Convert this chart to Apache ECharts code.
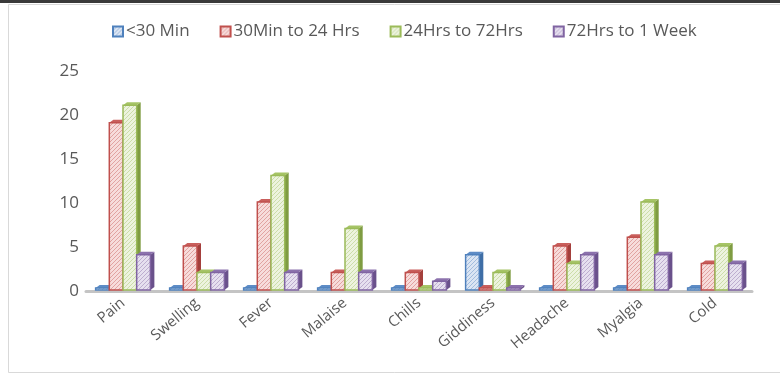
<!DOCTYPE html>
<html>
<head>
<meta charset="utf-8">
<script src="https://cdn.jsdelivr.net/npm/echarts@6/dist/echarts.min.js"></script>
<style>
  html, body { margin: 0; padding: 0; background: #fff; }
  #chart { width: 780px; height: 377px; }
</style>
</head>
<body>
<div id="chart"></div>
<script>
// Symptom counts by onset time
const categories = ['Pain', 'Swelling', 'Fever', 'Malaise', 'Chills', 'Giddiness', 'Headache', 'Myalgia', 'Cold'];
const seriesNames = ['<30 Min', '30Min to 24 Hrs', '24Hrs to 72Hrs', '72Hrs to 1 Week'];
const under30Min   = [0, 0, 0, 0, 0, 4, 0, 0, 0];
const min30To24Hrs = [19, 5, 10, 2, 2, 0, 5, 6, 3];
const hrs24To72Hrs = [21, 2, 13, 7, 0, 2, 3, 10, 5];
const hrs72To1Week = [4, 2, 2, 2, 1, 0, 4, 4, 3];
const yTicks = [0, 5, 10, 15, 20, 25];

const palette = [
  { line: '#4f81bd', pale: '#dbe5f3', side: '#3f6ea6', top: '#5d8cc6' },
  { line: '#c0504d', pale: '#f7dcdb', side: '#a43f3c', top: '#c95f5c' },
  { line: '#9bbb59', pale: '#edf3df', side: '#7f9c42', top: '#a6c466' },
  { line: '#8064a2', pale: '#e6e0ef', side: '#6a518b', top: '#8c72ad' }
];

// Diagonal hatch texture for a bar face
function hatch(pale, line) {
  const c = document.createElement('canvas');
  c.width = 4; c.height = 4;
  const g = c.getContext('2d');
  g.fillStyle = pale;
  g.fillRect(0, 0, 4, 4);
  g.strokeStyle = line;
  g.globalAlpha = 0.45;
  g.lineWidth = 0.9;
  g.beginPath();
  g.moveTo(0, 4); g.lineTo(4, 0);
  g.moveTo(-1, 1); g.lineTo(1, -1);
  g.moveTo(3, 5); g.lineTo(5, 3);
  g.stroke();
  return { image: c, repeat: 'repeat' };
}

const DEPTH = 4;

function barRenderer(idx, count) {
  const col = palette[idx];
  const fill = hatch(col.pale, col.line);
  return function (params, api) {
    const cat = api.value(0);
    const v = api.value(1);
    const band = api.size([1, 0])[0];
    const bw = band * 0.185;
    const base = api.coord([cat, 0]);
    const tip = api.coord([cat, v]);
    const x0 = base[0] - (bw * count) / 2 + idx * bw;
    let h = base[1] - tip[1];
    if (h < 2) h = 2;
    const yb = base[1] - 1;
    const y0 = yb - h;
    const d = DEPTH;
    return {
      type: 'group',
      children: [
        { type: 'polygon', shape: { points: [[x0 + bw, y0], [x0 + bw + d, y0 - d + 1], [x0 + bw + d, yb - d + 1], [x0 + bw, yb]] },
          style: { fill: col.side } },
        { type: 'polygon', shape: { points: [[x0, y0], [x0 + d, y0 - d + 1], [x0 + bw + d, y0 - d + 1], [x0 + bw, y0]] },
          style: { fill: col.top } },
        { type: 'rect', shape: { x: x0, y: y0, width: bw, height: h },
          style: { fill: fill, stroke: col.line, lineWidth: 1.5 } }
      ]
    };
  };
}

const values = [under30Min, min30To24Hrs, hrs24To72Hrs, hrs72To1Week];

const series = values.map((arr, i) => ({
  name: seriesNames[i],
  type: 'custom',
  renderItem: barRenderer(i, values.length),
  itemStyle: { color: hatch(palette[i].pale, palette[i].line), borderColor: palette[i].line, borderWidth: 1 },
  encode: { x: 0, y: 1 },
  data: arr.map((v, k) => [k, v]),
  z: 2 + i
}));

const chart = echarts.init(document.getElementById('chart'), null, { renderer: 'canvas' });
chart.setOption({
  backgroundColor: '#ffffff',
  animation: false,
  textStyle: { fontFamily: 'Open Sans' },
  legend: {
    data: seriesNames,
    top: 18,
    left: 107,
    itemWidth: 10,
    itemHeight: 10,
    itemGap: 30,
    icon: 'rect',
    textStyle: { color: '#595959', fontSize: 17, fontFamily: 'Open Sans', padding: [0, 0, 0, -2] }
  },
  grid: { left: 86, right: 28, top: 71, bottom: 86, containLabel: false },
  xAxis: {
    type: 'category',
    data: categories,
    boundaryGap: true,
    axisLine: { lineStyle: { color: '#c4c4c4', width: 3 } },
    axisTick: { show: false },
    axisLabel: { rotate: 40, color: '#595959', fontSize: 15, margin: 10, interval: 0 }
  },
  yAxis: {
    type: 'value',
    min: yTicks[0],
    max: yTicks[yTicks.length - 1],
    interval: 5,
    axisLine: { show: false },
    axisTick: { show: false },
    splitLine: { show: false },
    axisLabel: { color: '#595959', fontSize: 17, margin: 7 }
  },
  graphic: [
    { type: 'rect', shape: { x: 0, y: 0, width: 780, height: 3 }, style: { fill: '#3a3a3a' }, silent: true },
    { type: 'rect', shape: { x: 8.5, y: 4.5, width: 790, height: 368 }, style: { fill: 'none', stroke: '#d9d9d9', lineWidth: 1 }, silent: true, z: -1 }
  ],
  series: series
});
</script>
</body>
</html>
